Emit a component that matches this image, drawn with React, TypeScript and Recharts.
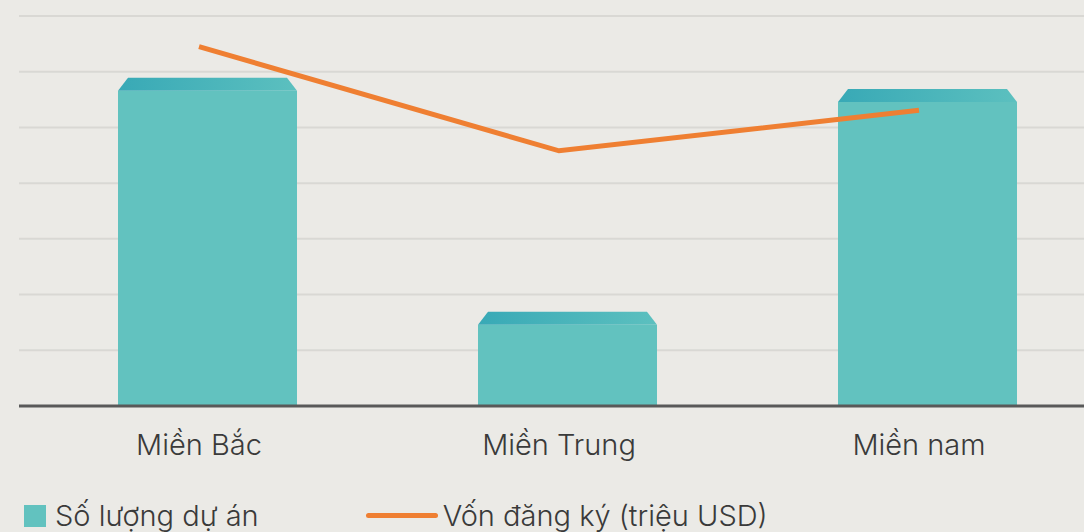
import { ComposedChart, Bar, Line, XAxis, YAxis, CartesianGrid } from 'recharts'

const regions = ['Miền Bắc', 'Miền Trung', 'Miền nam']
const projectCounts = [589, 169, 569]
const registeredCapital = [645, 458, 531]
const yTicks = [0, 100, 200, 300, 400, 500, 600, 700]

const data = regions.map((name, i) => ({
  name,
  projects: projectCounts[i],
  capital: registeredCapital[i],
}))

const FONT = 'Inter, Roboto, "Noto Sans", sans-serif'

// bar with a bevelled top face, nudged right like the source picture
function BevelBar(props: any) {
  const { y, width, height } = props
  if (height == null || height <= 0) return null
  const x = props.x + 8
  const bevel = 13
  const inset = 10
  return (
    <g>
      <rect x={x} y={y + bevel} width={width} height={height - bevel} fill="#62c2bf" />
      <path
        d={`M${x},${y + bevel} L${x + inset},${y} L${x + width - inset},${y} L${x + width},${y + bevel} Z`}
        fill="url(#bevelTop)"
      />
    </g>
  )
}

export default function App() {
  return (
    <div
      style={{
        position: 'fixed',
        left: 0,
        top: 0,
        width: 1084,
        height: 532,
        overflow: 'hidden',
        background: '#ebeae6',
        fontFamily: FONT,
      }}
    >
      <ComposedChart
        width={1100}
        height={532}
        data={data}
        margin={{ top: 16, right: 1, left: 19, bottom: 0 }}
      >
        <defs>
          <linearGradient id="bevelTop" x1="0" y1="0" x2="1" y2="0">
            <stop offset="0%" stopColor="#38a9b6" />
            <stop offset="100%" stopColor="#5cc0bf" />
          </linearGradient>
        </defs>
        <CartesianGrid vertical={false} stroke="#d9d8d4" strokeWidth={2} />
        <XAxis
          dataKey="name"
          height={126}
          tickLine={false}
          tickSize={0}
          tickMargin={28}
          axisLine={{ stroke: '#595959', strokeWidth: 3 }}
          tick={{ fill: '#3a3a3a', fontSize: 29, fontWeight: 300, fontFamily: FONT }}
        />
        <YAxis hide domain={[0, 700]} ticks={yTicks} />
        <Bar
          dataKey="projects"
          barSize={179}
          shape={<BevelBar />}
          isAnimationActive={false}
        />
        <Line
          dataKey="capital"
          type="linear"
          stroke="#ef7f32"
          strokeWidth={5}
          dot={false}
          activeDot={false}
          isAnimationActive={false}
        />
      </ComposedChart>
      <div
        style={{
          position: 'absolute',
          left: 24,
          top: 498,
          display: 'flex',
          alignItems: 'center',
          fontSize: 29,
          fontWeight: 300,
          color: '#3a3a3a',
          whiteSpace: 'nowrap',
        }}
      >
        <span style={{ width: 22, height: 22, background: '#62c2bf', display: 'inline-block' }} />
        <span style={{ marginLeft: 9 }}>Số lượng dự án</span>
        <span
          style={{
            width: 72,
            height: 5,
            borderRadius: 3,
            background: '#ef7f32',
            display: 'inline-block',
            marginLeft: 107,
          }}
        />
        <span style={{ marginLeft: 5 }}>Vốn đăng ký (triệu USD)</span>
      </div>
    </div>
  )
}
